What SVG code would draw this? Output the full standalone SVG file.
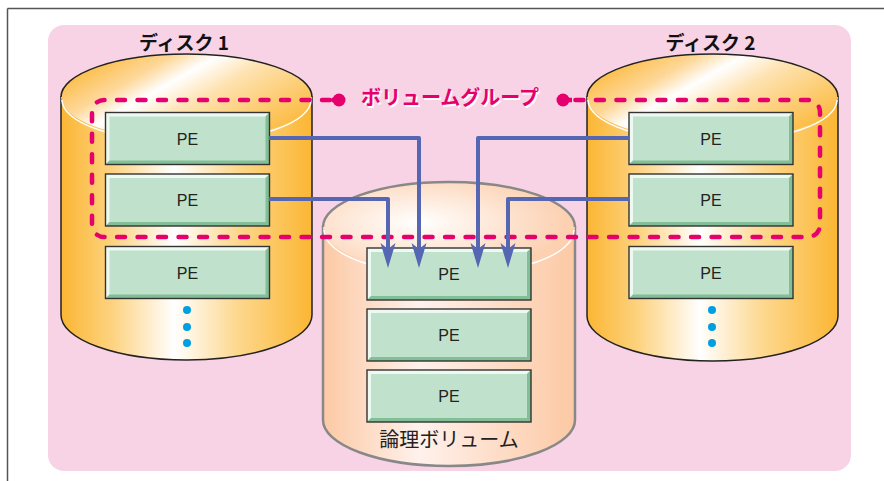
<svg xmlns="http://www.w3.org/2000/svg" width="884" height="481" viewBox="0 0 884 481">
<style>
.cyl{stroke:#222;stroke-width:1.5}
.hl{fill:none;stroke:#fff;stroke-width:1.5}
.pe-t{font-family:"Liberation Sans",Arial,sans-serif;font-size:16px;fill:#222;text-anchor:middle}
.jp{font-family:"Noto Sans CJK JP","Noto Sans",sans-serif;text-anchor:middle}
.conn{fill:none;stroke:#5566b3;stroke-width:4;stroke-linejoin:round}
.dash{fill:none;stroke:#e6006e;stroke-width:4.5;stroke-dasharray:8 12.5;stroke-linecap:round}
.dot{fill:#00a0e0}
</style>
<defs>
<linearGradient id="bodyG" x1="0" y1="0" x2="1" y2="0">
<stop offset="0" stop-color="#fbb633"/>
<stop offset="0.2" stop-color="#fdd27e"/>
<stop offset="0.45" stop-color="#ffffff"/>
<stop offset="0.7" stop-color="#fdd88f"/>
<stop offset="1" stop-color="#fbb633"/>
</linearGradient>
<linearGradient id="topG" x1="0" y1="0.2" x2="1" y2="0.8">
<stop offset="0" stop-color="#fbb633"/>
<stop offset="0.25" stop-color="#fed89a"/>
<stop offset="0.38" stop-color="#ffffff"/>
<stop offset="0.55" stop-color="#fee2b0"/>
<stop offset="1" stop-color="#fbb633"/>
</linearGradient>
<linearGradient id="lvBody" x1="0" y1="0" x2="1" y2="0">
<stop offset="0" stop-color="#fcc9a4"/>
<stop offset="0.38" stop-color="#fff1ec"/>
<stop offset="1" stop-color="#fcc9a4"/>
</linearGradient>
<radialGradient id="lvTop" cx="0.38" cy="0.45" r="0.6">
<stop offset="0" stop-color="#ffffff"/>
<stop offset="1" stop-color="#fcd0b0"/>
</radialGradient>
<g id="pe">
<rect x="0" y="0" width="164" height="52" fill="#c0e1cb"/>
<polygon points="0,0 164,0 160,4 4,4 4,48 0,52" fill="#eef9f1"/>
<polygon points="164,0 164,52 0,52 4,48 160,48 160,4" fill="#82bf97"/>
<rect x="0" y="0" width="164" height="52" fill="none" stroke="#333" stroke-width="1.4"/>
<text x="82" y="32" class="pe-t">PE</text>
</g>
<marker id="arr" markerUnits="userSpaceOnUse" markerWidth="26" markerHeight="16" viewBox="0 0 26 16" refX="6" refY="8" orient="auto">
<path d="M0,0.5 L25,8 L0,15.5 L6,8 Z" fill="#5566b3"/>
</marker>
</defs>

<line x1="7.5" y1="8.5" x2="884" y2="8.5" stroke="#555" stroke-width="1.5"/>
<line x1="7.5" y1="8.5" x2="7.5" y2="481" stroke="#555" stroke-width="1.5"/>
<rect x="48" y="25" width="803" height="446" rx="16" fill="#f8d3e5"/>

<g id="disk1">
<path class="cyl" d="M61,97 V315 A125.5,45 0 0 0 312,315 V97 Z" fill="url(#bodyG)"/>
<ellipse cx="186.5" cy="97" rx="125.5" ry="43" fill="url(#topG)"/>
<path class="cyl" fill="none" d="M61,97 A125.5,43 0 0 1 312,97"/>
<path class="hl" d="M62,100 A124.5,42 0 0 0 311,100"/>
<text x="184" y="50" class="jp" font-size="19" font-weight="700" fill="#111">ディスク 1</text>
<use href="#pe" x="105.5" y="112.5"/>
<use href="#pe" x="105.5" y="174"/>
<use href="#pe" x="105.5" y="246.5"/>
<circle class="dot" cx="187" cy="310" r="4"/>
<circle class="dot" cx="187" cy="327" r="4"/>
<circle class="dot" cx="187" cy="343" r="4"/>
</g>

<g id="disk2">
<path class="cyl" d="M587,97 V316 A125.5,45 0 0 0 838,316 V97 Z" fill="url(#bodyG)"/>
<ellipse cx="712.5" cy="97" rx="125.5" ry="43" fill="url(#topG)"/>
<path class="cyl" fill="none" d="M587,97 A125.5,43 0 0 1 838,97"/>
<path class="hl" d="M588,100 A124.5,42 0 0 0 837,100"/>
<text x="710.5" y="50" class="jp" font-size="19" font-weight="700" fill="#111">ディスク 2</text>
<use href="#pe" x="629" y="112.5"/>
<use href="#pe" x="629" y="174"/>
<use href="#pe" x="629" y="246.5"/>
<circle class="dot" cx="712" cy="310" r="4"/>
<circle class="dot" cx="712" cy="327" r="4"/>
<circle class="dot" cx="712" cy="343" r="4"/>
</g>

<g id="lv">
<path d="M323,227 V420 A126,46 0 0 0 575,420 V227 Z" fill="url(#lvBody)" stroke="#888" stroke-width="2.5"/>
<ellipse cx="449" cy="227" rx="126" ry="45" fill="url(#lvTop)"/>
<path fill="none" stroke="#888" stroke-width="2.5" d="M323,227 A126,45 0 0 1 575,227"/>
<path class="hl" d="M324,230 A125,45 0 0 0 574,230"/>
<use href="#pe" x="367" y="248"/>
<use href="#pe" x="367" y="309"/>
<use href="#pe" x="367" y="370"/>
<text x="449" y="447" class="jp" font-size="20" fill="#222">論理ボリューム</text>
</g>

<g id="vg">
<path class="dash" d="M330,100 H104 A12,12 0 0 0 92,112 V225 A12,12 0 0 0 104,237 H808 A12,12 0 0 0 820,225 V112 A12,12 0 0 0 808,100 H572"/>
<line x1="332" y1="100" x2="339" y2="100" stroke="#e6006e" stroke-width="4.5"/>
<line x1="563" y1="100" x2="572" y2="100" stroke="#e6006e" stroke-width="4.5"/>
<circle cx="339" cy="100" r="6.5" fill="#e6006e"/>
<circle cx="563" cy="100" r="6.5" fill="#e6006e"/>
<text x="451.5" y="106.5" class="jp" font-size="20" font-weight="700" fill="#fff">ボリュームグループ</text>
<text x="450" y="105" class="jp" font-size="20" font-weight="700" fill="#e6006e">ボリュームグループ</text>
</g>

<g id="connectors">
<path class="conn" d="M269,138 H419 V249" marker-end="url(#arr)"/>
<path class="conn" d="M269,199 H388 V249" marker-end="url(#arr)"/>
<path class="conn" d="M629,138 H478 V249" marker-end="url(#arr)"/>
<path class="conn" d="M629,199 H508 V249" marker-end="url(#arr)"/>
</g>
</svg>
